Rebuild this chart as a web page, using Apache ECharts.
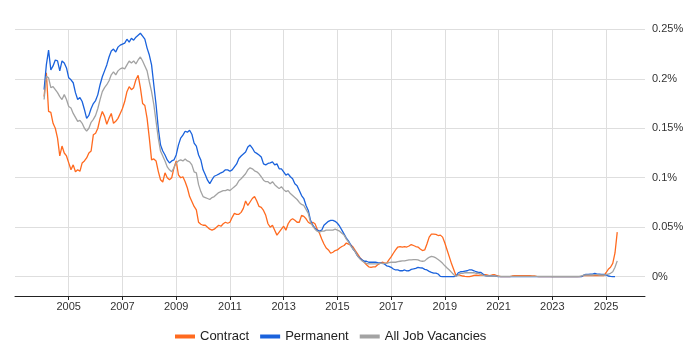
<!DOCTYPE html>
<html>
<head>
<meta charset="utf-8">
<script src="https://cdn.jsdelivr.net/npm/echarts@6/dist/echarts.min.js"></script>
<style>
    html, body { margin: 0; padding: 0; background: #fff; }
    #main { width: 700px; height: 350px; }
</style>
</head>
<body>
<div id="main"></div>
<script>
// monthly figures (% of all IT jobs), first value is Feb 2004
var firstMonth = 13;            // months counted from Jan 2003
var axisStartYear = 2003;
var axisEndMonth = 281.4;       // mid 2026

var contract = [
    0.182, 0.206, 0.167, 0.166, 0.155, 0.150, 0.140, 0.122, 0.132, 0.125, 0.122,
    0.115, 0.108, 0.113, 0.106, 0.108, 0.1065, 0.115, 0.117, 0.120, 0.125, 0.127, 0.1435,
    0.145, 0.150, 0.160, 0.167, 0.162, 0.154, 0.160, 0.165, 0.155, 0.157, 0.160, 0.165,
    0.170, 0.177, 0.187, 0.192, 0.189, 0.191, 0.199, 0.2035, 0.191, 0.175, 0.173, 0.160,
    0.140, 0.118, 0.119, 0.117, 0.1065, 0.098, 0.0957, 0.105, 0.100, 0.098, 0.100, 0.110,
    0.117, 0.103, 0.100, 0.101, 0.096, 0.0896, 0.081, 0.076, 0.071, 0.0675, 0.055, 0.053,
    0.052, 0.052, 0.050, 0.048, 0.047, 0.048, 0.050, 0.052, 0.051, 0.0535, 0.055, 0.054,
    0.055, 0.060, 0.064, 0.063, 0.063, 0.065, 0.069, 0.0765, 0.072, 0.0755, 0.079, 0.081,
    0.0765, 0.071, 0.070, 0.067, 0.062, 0.0535, 0.050, 0.052, 0.047, 0.042, 0.045, 0.048,
    0.051, 0.047, 0.0535, 0.057, 0.0585, 0.057, 0.055, 0.055, 0.062, 0.061, 0.0585, 0.055,
    0.0535, 0.055, 0.0535, 0.048, 0.044, 0.038, 0.033, 0.029, 0.027, 0.0237, 0.0247, 0.0264,
    0.027, 0.029, 0.0305, 0.0315, 0.034, 0.033, 0.032, 0.030, 0.0264, 0.023, 0.0196, 0.017,
    0.0146, 0.012, 0.010, 0.0095, 0.010, 0.010, 0.012, 0.0135, 0.0146, 0.014, 0.0135, 0.017,
    0.020, 0.0237, 0.027, 0.030, 0.0305, 0.030, 0.0305, 0.030, 0.031, 0.0325, 0.0315, 0.0305,
    0.030, 0.028, 0.0264, 0.027, 0.033, 0.040, 0.043, 0.043, 0.0427, 0.0416, 0.042, 0.040,
    0.034, 0.027, 0.020, 0.013, 0.007, 0.001, 0.002, 0.0013, 0.0007, 0.0003, 0, 0,
    0.0007, 0.0013, 0.0017, 0.0013, 0.0017, 0.0017, 0.002, 0.0017, 0.001, 0.0017, 0.002, 0.0013,
    0.0007, 0, 0, 0, 0, 0, 0.0007, 0.001, 0.001, 0.001, 0.001, 0.001,
    0.001, 0.001, 0.001, 0.0007, 0.0007, 0.0003, 0, 0, 0, 0, 0, 0,
    0, 0, 0, 0, 0, 0, 0, 0, 0, 0, 0, 0,
    0, 0.0003, 0.001, 0.001, 0.001, 0.001, 0.001, 0.001, 0.001, 0.001, 0.001, 0.001,
    0.004, 0.0075, 0.0095, 0.0135, 0.024, 0.045
];

var permanent = [
    0.189, 0.214, 0.229, 0.209, 0.213, 0.219, 0.218, 0.208, 0.218, 0.216, 0.211,
    0.201, 0.199, 0.196, 0.186, 0.179, 0.181, 0.177, 0.169, 0.160, 0.163, 0.170, 0.175,
    0.178, 0.184, 0.194, 0.202, 0.208, 0.214, 0.222, 0.228, 0.230, 0.227, 0.232, 0.234,
    0.235, 0.236, 0.240, 0.237, 0.241, 0.239, 0.242, 0.244, 0.246, 0.243, 0.240, 0.231,
    0.224, 0.214, 0.194, 0.174, 0.150, 0.133, 0.127, 0.123, 0.118, 0.115, 0.117, 0.118,
    0.123, 0.133, 0.140, 0.143, 0.147, 0.146, 0.148, 0.144, 0.135, 0.132, 0.123, 0.118,
    0.108, 0.103, 0.0975, 0.094, 0.098, 0.1015, 0.1025, 0.1036, 0.105, 0.106, 0.108, 0.108,
    0.1066, 0.108, 0.111, 0.114, 0.1195, 0.122, 0.124, 0.126, 0.131, 0.133, 0.130, 0.126,
    0.1246, 0.123, 0.121, 0.114, 0.113, 0.1144, 0.115, 0.116, 0.113, 0.114, 0.109, 0.109,
    0.106, 0.1026, 0.104, 0.101, 0.099, 0.094, 0.092, 0.087, 0.082, 0.079, 0.072, 0.067,
    0.057, 0.052, 0.049, 0.047, 0.046, 0.047, 0.052, 0.054, 0.056, 0.057, 0.057, 0.056,
    0.054, 0.051, 0.047, 0.043, 0.039, 0.036, 0.032, 0.028, 0.025, 0.021, 0.019, 0.017,
    0.0156, 0.0156, 0.0146, 0.0146, 0.0146, 0.0146, 0.0142, 0.014, 0.0135, 0.0129, 0.011, 0.0105,
    0.0095, 0.0078, 0.0068, 0.0068, 0.006, 0.006, 0.0068, 0.0058, 0.006, 0.0074, 0.0078, 0.0085,
    0.0095, 0.009, 0.0088, 0.0074, 0.0068, 0.0054, 0.0044, 0.0037, 0.0037, 0.0027, 0.0003, 0,
    0, 0, 0, 0, 0, 0.0005, 0.004, 0.005, 0.0052, 0.0057, 0.006, 0.007,
    0.0068, 0.006, 0.005, 0.0044, 0.0044, 0.0027, 0.001, 0.0005, 0.0007, 0.0007, 0.0005, 0.0003,
    0, 0, 0, 0, 0, 0, 0, 0, 0, 0, 0, 0,
    0, 0, 0, 0, 0, 0, 0, 0, 0, 0, 0, 0,
    0, 0, 0, 0, 0, 0, 0, 0, 0, 0, 0, 0,
    0, 0, 0.0015, 0.0024, 0.0024, 0.0027, 0.0027, 0.0034, 0.0027, 0.0027, 0.0024, 0.0024,
    0.0017, 0.0007, 0.0003, 0, 0, null
];

var allJobs = [
    0.179, 0.2025, 0.201, 0.191, 0.192, 0.189, 0.186, 0.182, 0.179, 0.184, 0.179,
    0.172, 0.1705, 0.165, 0.161, 0.157, 0.158, 0.155, 0.150, 0.147, 0.150, 0.156, 0.159,
    0.163, 0.170, 0.179, 0.187, 0.191, 0.194, 0.198, 0.204, 0.207, 0.204, 0.208, 0.210,
    0.211, 0.210, 0.214, 0.218, 0.216, 0.218, 0.215, 0.219, 0.222, 0.218, 0.213, 0.208,
    0.197, 0.187, 0.174, 0.157, 0.140, 0.127, 0.122, 0.117, 0.111, 0.108, 0.106, 0.110,
    0.115, 0.117, 0.118, 0.117, 0.119, 0.117, 0.116, 0.113, 0.106, 0.105, 0.093, 0.086,
    0.081, 0.080, 0.079, 0.078, 0.080, 0.081, 0.083, 0.085, 0.086, 0.087, 0.087, 0.088,
    0.087, 0.089, 0.091, 0.093, 0.097, 0.099, 0.1015, 0.104, 0.108, 0.110, 0.109, 0.107,
    0.106, 0.104, 0.101, 0.0975, 0.096, 0.096, 0.094, 0.096, 0.093, 0.091, 0.089, 0.091,
    0.088, 0.086, 0.087, 0.084, 0.082, 0.080, 0.078, 0.075, 0.073, 0.072, 0.068, 0.064,
    0.055, 0.051, 0.048, 0.046, 0.045, 0.046, 0.046, 0.047, 0.047, 0.047, 0.047, 0.048,
    0.047, 0.046, 0.044, 0.042, 0.038, 0.035, 0.031, 0.028, 0.025, 0.021, 0.018, 0.016,
    0.0146, 0.0135, 0.0129, 0.0129, 0.0129, 0.0129, 0.0129, 0.0135, 0.0135, 0.0135, 0.0135, 0.0142,
    0.0146, 0.0146, 0.0146, 0.0152, 0.0156, 0.016, 0.016, 0.0166, 0.017, 0.017, 0.0173, 0.0173,
    0.017, 0.016, 0.0156, 0.016, 0.018, 0.0196, 0.0206, 0.020, 0.019, 0.0173, 0.0156, 0.0135,
    0.011, 0.0088, 0.0068, 0.0044, 0.002, 0.0003, 0.0017, 0.0034, 0.0034, 0.004, 0.004, 0.004,
    0.004, 0.004, 0.0034, 0.0034, 0.0027, 0.0017, 0.001, 0.0007, 0.0007, 0.0007, 0.0007, 0.0005,
    0.0003, 0.0003, 0.0003, 0.0003, 0.0003, 0.0003, 0.0003, 0.0003, 0.0003, 0.0003, 0.0003, 0.0003,
    0.0003, 0.0003, 0.0003, 0.0003, 0.0003, 0.0003, 0.0003, 0.0003, 0.0003, 0.0003, 0.0003, 0.0003,
    0.0002, 0.0002, 0.0002, 0.0002, 0.0002, 0.0002, 0.0002, 0.0002, 0.0002, 0.0002, 0.0002, 0.0002,
    0.0003, 0.0007, 0.0015, 0.0017, 0.0017, 0.0017, 0.0017, 0.002, 0.002, 0.0017, 0.0017, 0.0017,
    0.002, 0.0027, 0.0034, 0.005, 0.0095, 0.016
];

var seriesNames = ['Contract', 'Permanent', 'All Job Vacancies'];
var seriesColors = ['#ff6a1f', '#1a62dc', '#a3a3a3'];
var yTicks = [0, 0.05, 0.1, 0.15, 0.2, 0.25];

function toPoints(values) {
    var res = [];
    for (var i = 0; i < values.length; i++) {
        if (values[i] !== null) {
            res.push([firstMonth + i, values[i]]);
        }
    }
    return res;
}

var chart = echarts.init(document.getElementById('main'), null, {renderer: 'canvas'});
var font = 'Arial, "Liberation Sans", sans-serif';

var option = {
    animation: false,
    backgroundColor: '#fff',
    textStyle: {fontFamily: font},
    legend: {
        left: 170,
        top: 325,
        icon: 'rect',
        itemWidth: 20,
        itemHeight: 4,
        itemGap: 11,
        textStyle: {fontSize: 13, color: '#222', fontFamily: font},
        data: seriesNames
    },
    grid: [
        // plot area, bottom at the 0% line
        {left: 15, right: 55, top: 29.3, bottom: 73.3},
        // frame for the time axis, a bit lower
        {left: 15, right: 55, top: 29.3, bottom: 54}
    ],
    xAxis: [
        {
            gridIndex: 0,
            type: 'value',
            min: 0,
            max: axisEndMonth,
            show: false
        },
        {
            gridIndex: 1,
            type: 'value',
            min: 0,
            max: axisEndMonth,
            interval: 24,
            axisLine: {lineStyle: {color: '#222', width: 1}},
            axisTick: {length: 4, lineStyle: {color: '#222'}},
            axisLabel: {
                margin: 5,
                fontSize: 11,
                color: '#333',
                fontFamily: font,
                showMinLabel: false,
                showMaxLabel: false,
                formatter: function (v) {
                    return (v > 0 && v % 24 === 0) ? String(axisStartYear + v / 12) : '';
                }
            },
            splitLine: {
                show: true,
                showMinLine: false,
                showMaxLine: false,
                lineStyle: {color: '#dedede', width: 1}
            }
        }
    ],
    yAxis: [
        {
            gridIndex: 0,
            type: 'value',
            position: 'right',
            min: yTicks[0],
            max: yTicks[yTicks.length - 1],
            interval: 0.05,
            axisLine: {show: false},
            axisTick: {show: false},
            axisLabel: {
                margin: 7,
                fontSize: 11,
                color: '#333',
                fontFamily: font,
                formatter: function (v) {
                    return parseFloat(v.toFixed(3)) + '%';
                }
            },
            splitLine: {lineStyle: {color: '#dedede', width: 1}}
        },
        {
            gridIndex: 1,
            type: 'value',
            min: 0,
            max: 1,
            show: false
        }
    ],
    series: [contract, permanent, allJobs].map(function (vals, i) {
        return {
            name: seriesNames[i],
            type: 'line',
            xAxisIndex: 0,
            yAxisIndex: 0,
            data: toPoints(vals),
            showSymbol: false,
            symbol: 'none',
            clip: false,
            color: seriesColors[i],
            lineStyle: {width: 1.3, color: seriesColors[i]},
            emphasis: {disabled: true}
        };
    })
};

chart.setOption(option);
</script>
</body>
</html>
